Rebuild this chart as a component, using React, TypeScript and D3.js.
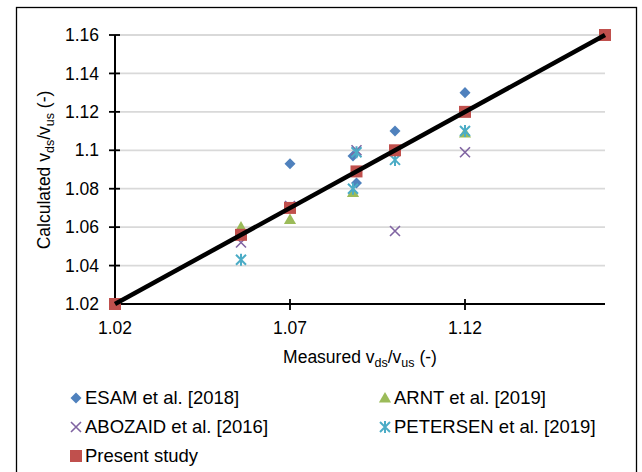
import * as d3 from "d3";
import React from "react";

// ---- data ----
const esamX = [1.07, 1.088, 1.089, 1.1, 1.12];
const esamY = [1.093, 1.097, 1.083, 1.11, 1.13];

const arntX = [1.056, 1.07, 1.088, 1.12];
const arntY = [1.06, 1.064, 1.078, 1.109];

const abozaidX = [1.056, 1.07, 1.089, 1.1, 1.12];
const abozaidY = [1.052, 1.071, 1.1, 1.058, 1.099];

const petersenX = [1.056, 1.088, 1.089, 1.1, 1.12];
const petersenY = [1.043, 1.08, 1.099, 1.095, 1.11];

const presentX = [1.02, 1.056, 1.07, 1.089, 1.1, 1.12, 1.16];
const presentY = [1.02, 1.056, 1.07, 1.089, 1.1, 1.12, 1.16];

const lineEnds = [1.02, 1.16];

const xTicks = [1.02, 1.07, 1.12];
const xTickLabels = ["1.02", "1.07", "1.12"];
const yTicks = [1.02, 1.04, 1.06, 1.08, 1.1, 1.12, 1.14, 1.16];
const yTickLabels = ["1.02", "1.04", "1.06", "1.08", "1.1", "1.12", "1.14", "1.16"];

const colors = {
  esam: "#4F81BD",
  arnt: "#9BBB59",
  abozaid: "#8064A2",
  petersen: "#4BACC6",
  present: "#C0504D",
};

const font = "'Liberation Sans', Arial, sans-serif";

const diamond = d3.symbol().type(d3.symbolDiamond2).size(78)();
const square = d3.symbol().type(d3.symbolSquare).size(144)();
const triangle = d3.symbol().type(d3.symbolTriangle).size(64)();
const cross = "M-5,-5L5,5M-5,5L5,-5";
const star = "M-5,-5L5,5M-5,5L5,-5M0,-6L0,6";

function Marker({ kind, color, x, y }) {
  if (kind === "diamond") return <path d={diamond} transform={`translate(${x},${y})`} fill={color} />;
  if (kind === "square") return <path d={square} transform={`translate(${x},${y})`} fill={color} />;
  if (kind === "triangle") return <path d={triangle} transform={`translate(${x},${y + 1})`} fill={color} />;
  if (kind === "cross")
    return <path d={cross} transform={`translate(${x},${y})`} stroke={color} strokeWidth={1.6} fill="none" />;
  return <path d={star} transform={`translate(${x},${y})`} stroke={color} strokeWidth={2} fill="none" />;
}

export default function App() {
  const width = 642;
  const height = 472;

  const x = d3.scaleLinear().domain([1.02, 1.16]).range([115, 605]);
  const y = d3.scaleLinear().domain([1.02, 1.16]).range([304, 35]);

  const series = [
    { name: "ESAM et al. [2018]", kind: "diamond", color: colors.esam, xs: esamX, ys: esamY },
    { name: "ARNT et al. [2019]", kind: "triangle", color: colors.arnt, xs: arntX, ys: arntY },
    { name: "ABOZAID et al. [2016]", kind: "cross", color: colors.abozaid, xs: abozaidX, ys: abozaidY },
    { name: "PETERSEN et al. [2019]", kind: "star", color: colors.petersen, xs: petersenX, ys: petersenY },
    { name: "Present study", kind: "square", color: colors.present, xs: presentX, ys: presentY },
  ];

  const legendPos = [
    [76, 398],
    [385, 398],
    [76, 427],
    [385, 427],
    [76, 456],
  ];

  const line = d3
    .line()
    .x((d) => x(d))
    .y((d) => y(d));

  return (
    <svg
      width={width}
      height={height}
      style={{ position: "absolute", left: 0, top: 0, background: "#fff" }}
      fontFamily={font}
    >
      <rect x={16.5} y={7.5} width={620} height={480} fill="#fff" stroke="#000" strokeWidth={1.3} />

      {/* gridlines */}
      {yTicks.slice(1).map((t) => (
        <line key={t} x1={x(1.02)} x2={x(1.16)} y1={y(t)} y2={y(t)} stroke="#d9d9d9" strokeWidth={1.8} />
      ))}

      {/* axes */}
      <line x1={x(1.02)} x2={x(1.16)} y1={y(1.02)} y2={y(1.02)} stroke="#000" strokeWidth={2} />
      <line x1={x(1.02)} x2={x(1.02)} y1={y(1.02)} y2={y(1.16)} stroke="#000" strokeWidth={2} />
      {yTicks.map((t, i) => (
        <g key={t}>
          <line x1={x(1.02) - 6} x2={x(1.02) + 5} y1={y(t)} y2={y(t)} stroke="#000" strokeWidth={1.8} />
          <text x={99} y={y(t)} dy="0.35em" textAnchor="end" fontSize={17.5}>
            {yTickLabels[i]}
          </text>
        </g>
      ))}
      {xTicks.map((t, i) => (
        <g key={t}>
          {i > 0 && <line x1={x(t)} x2={x(t)} y1={y(1.02) - 5} y2={y(1.02) + 6} stroke="#000" strokeWidth={1.8} />}
          <text x={x(t)} y={328} dy="0.35em" textAnchor="middle" fontSize={17.5}>
            {xTickLabels[i]}
          </text>
        </g>
      ))}

      {/* axis titles */}
      <text x={360} y={363} textAnchor="middle" fontSize={17.5}>
        Measured v<tspan fontSize={12.5} dy={4}>ds</tspan>
        <tspan dy={-4}>/v</tspan>
        <tspan fontSize={12.5} dy={4}>us</tspan>
        <tspan dy={-4}> (-)</tspan>
      </text>
      <text transform="translate(50,170) rotate(-90)" textAnchor="middle" fontSize={17.5}>
        Calculated v<tspan fontSize={12.5} dy={4}>ds</tspan>
        <tspan dy={-4}>/v</tspan>
        <tspan fontSize={12.5} dy={4}>us</tspan>
        <tspan dy={-4}> (-)</tspan>
      </text>

      {/* markers */}
      {series.map((s) =>
        s.xs.map((v, i) => <Marker key={s.name + i} kind={s.kind} color={s.color} x={x(v)} y={y(s.ys[i])} />)
      )}

      {/* 1:1 line */}
      <path d={line(lineEnds)} stroke="#000" strokeWidth={4.5} fill="none" />

      {/* legend */}
      {series.map((s, i) => (
        <g key={s.name}>
          <Marker kind={s.kind} color={s.color} x={legendPos[i][0]} y={legendPos[i][1]} />
          <text x={legendPos[i][0] + 9} y={legendPos[i][1]} dy="0.35em" fontSize={18.5}>
            {s.name}
          </text>
        </g>
      ))}
    </svg>
  );
}
